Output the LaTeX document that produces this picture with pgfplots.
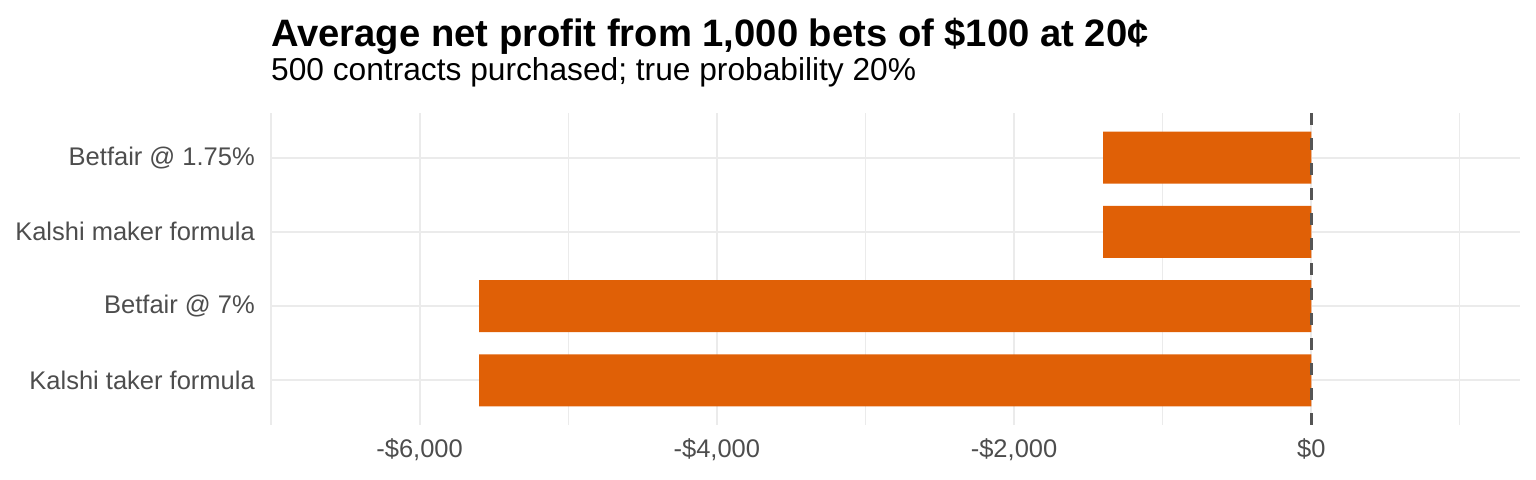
\documentclass[border=0pt]{standalone}
\usepackage{pgfplots}
\pgfplotsset{compat=1.18}
\usepackage{fontspec}
\setmainfont{Liberation Sans}
\definecolor{barc}{HTML}{E06006}
\definecolor{gridc}{HTML}{EBEBEB}
\definecolor{tickc}{HTML}{4D4D4D}
\definecolor{vlinec}{HTML}{555555}
\begin{document}
\begin{tikzpicture}
\useasboundingbox (0,0) rectangle (1536bp,480bp);
\begin{axis}[
  at={(271bp,55bp)}, anchor=south west,
  scale only axis, width=1249bp, height=312bp,
  xmin=-7000, xmax=1404, ymin=0.4, ymax=4.6,
  axis line style={draw=none},
  major tick length=0pt, minor tick length=0pt,
  xtick={-6000,-4000,-2000,0},
  xticklabels={{-\$6,000},{-\$4,000},{-\$2,000},{\$0}},
  minor xtick={-7000,-5000,-3000,-1000,1000},
  ytick={1,2,3,4},
  yticklabels={Kalshi taker formula, Betfair @ 7\%, Kalshi maker formula, Betfair @ 1.75\%},
  xmajorgrids, ymajorgrids, xminorgrids,
  major grid style={gridc, line width=2.1bp},
  minor grid style={gridc, line width=1.05bp},
  tick label style={font=\fontsize{25.5bp}{30bp}\selectfont, text=tickc},
  yticklabel style={inner sep=0pt, anchor=east, xshift=-16bp},
  xticklabel style={inner sep=0pt, anchor=north, yshift=-13bp},
]
\addplot[xbar, fill=barc, draw=none, bar width=0.7] coordinates {(-5600,1) (-5600,2) (-1400,3) (-1400,4)};
\addplot[vlinec, line width=2.7bp, dash pattern=on 12bp off 13bp] coordinates {(0,0.4) (0,4.6)};
\end{axis}
\node[anchor=base west, inner sep=0pt, font=\fontsize{38.2bp}{44bp}\selectfont\bfseries] at (271bp,433bp) {Average net profit from 1,000 bets of \$100 at 20¢};
\node[anchor=base west, inner sep=0pt, font=\fontsize{31.7bp}{37bp}\selectfont] at (271bp,399bp) {500 contracts purchased; true probability 20\%};
\end{tikzpicture}
\end{document}
